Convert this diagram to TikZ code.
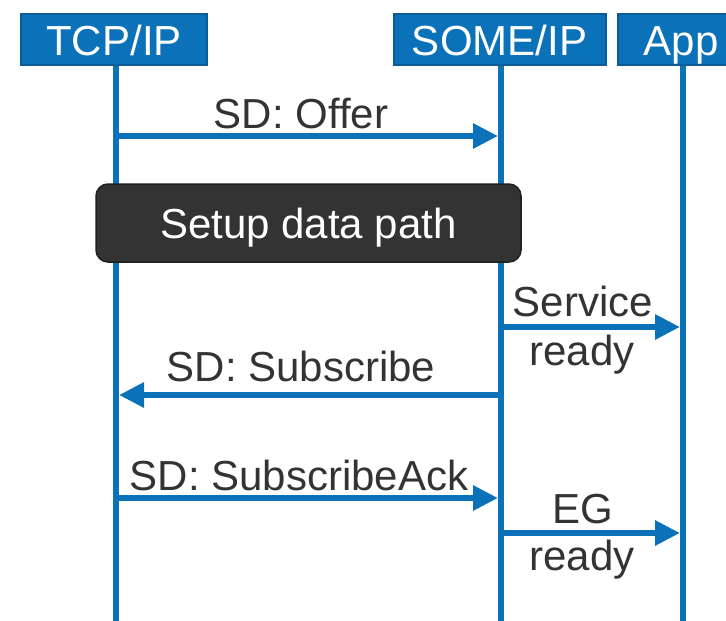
\documentclass[tikz,border=0pt]{standalone}
\usepackage{fontspec}
\setmainfont{Liberation Sans}
\usetikzlibrary{arrows.meta}
\definecolor{laneblue}{HTML}{0B71B9}
\definecolor{laneedge}{HTML}{0A5B96}
\definecolor{darkbox}{HTML}{333333}
\definecolor{darkedge}{HTML}{1F1F1F}
\definecolor{msgtext}{HTML}{333333}

\begin{document}
\begin{tikzpicture}[x=1pt, y=-1pt,
  every node/.style={font=\fontsize{42}{48}\selectfont},
  header/.style={rectangle, draw=laneedge, line width=2pt, fill=laneblue, text=white,
    inner sep=0pt, minimum height=51pt, text height=32pt, text depth=0pt},
  lifeline/.style={laneblue, line width=6pt},
  message/.style={laneblue, line width=6pt, -{Triangle[length=25pt, width=24pt]}},
  msglabel/.style={text=msgtext, anchor=base, inner sep=0pt},
  setupbox/.style={rectangle, rounded corners=12pt, fill=darkbox, draw=darkedge,
    line width=1.5pt, text=white, inner sep=0pt, minimum width=425pt,
    minimum height=78pt, text height=30pt, text depth=0pt}]
  \useasboundingbox (0,0) rectangle (726,621);
  \clip (0,0) rectangle (726,621);

  \node[header, minimum width=186pt] (tcp) at (114,39) {TCP/IP};
  \node[header, minimum width=212pt] (someip) at (499.5,39) {SOME/IP};
  \node[header, minimum width=126pt] (app) at (681,39) {App};

  \coordinate (tcp-end) at (116,621);
  \coordinate (someip-end) at (501,621);
  \coordinate (app-end) at (683,621);
  \draw[lifeline] (tcp-end |- tcp.south) -- (tcp-end);
  \draw[lifeline] (someip-end |- someip.south) -- (someip-end);
  \draw[lifeline] (app-end |- app.south) -- (app-end);

  \coordinate (offer-a) at (116,136);
  \coordinate (offer-b) at (498,136);
  \draw[message] (offer-a) -- (offer-b);
  \node[msglabel] (offer) at (301,128) {SD: Offer};

  \node[setupbox] (setup) at (308.5,223) {Setup data path};

  \coordinate (service-a) at (501,327);
  \coordinate (service-b) at (680,327);
  \draw[message] (service-a) -- (service-b);
  \node[msglabel] (service) at (583,316) {Service};
  \node[msglabel] (service-ready) at (582,365) {ready};

  \coordinate (subscribe-a) at (501,395);
  \coordinate (subscribe-b) at (119,395);
  \draw[message] (subscribe-a) -- (subscribe-b);
  \node[msglabel] (subscribe) at (301,381) {SD: Subscribe};

  \coordinate (ack-a) at (116,498);
  \coordinate (ack-b) at (498,498);
  \draw[message] (ack-a) -- (ack-b);
  \node[msglabel] (ack) at (299,490) {SD: SubscribeAck};

  \coordinate (eg-a) at (501,533);
  \coordinate (eg-b) at (680,533);
  \draw[message] (eg-a) -- (eg-b);
  \node[msglabel] (eg) at (583,523) {EG};
  \node[msglabel] (eg-ready) at (582,570) {ready};
\end{tikzpicture}
\end{document}
